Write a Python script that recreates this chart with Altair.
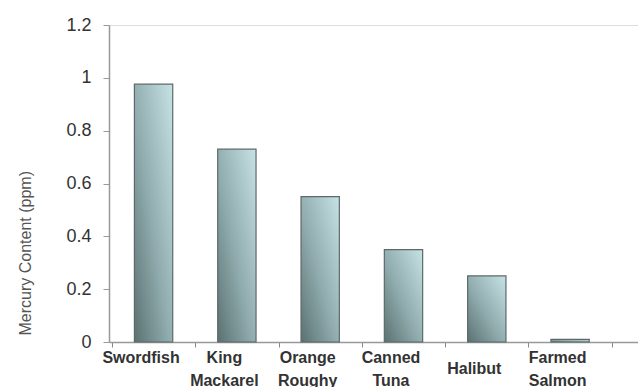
import altair as alt
import pandas as pd

categories = ["Swordfish", "King\nMackarel", "Orange\nRoughy", "Canned\nTuna", "Halibut", "Farmed\nSalmon"]
mercury_ppm = [0.976, 0.73, 0.55, 0.35, 0.25, 0.01]
y_ticks = [0, 0.2, 0.4, 0.6, 0.8, 1.0, 1.2]

df = pd.DataFrame({"fish": categories, "ppm": mercury_ppm})

grad = alt.Gradient(
    gradient="linear",
    x1=0, y1=1, x2=1, y2=0,
    stops=[
        alt.GradientStop(color="#5b7171", offset=0),
        alt.GradientStop(color="#8fabad", offset=0.45),
        alt.GradientStop(color="#c6e2e5", offset=1),
    ],
)

chart = alt.Chart(df).mark_bar(
    fill=grad, stroke="#5e6868", strokeWidth=1.2,
    width=alt.RelativeBandSize(0.46),
).encode(
    x=alt.X("fish:N", sort=categories,
            scale=alt.Scale(paddingInner=0, paddingOuter=0.175, align=0.1),
            axis=alt.Axis(
                title=None, labelAngle=0,
                labelExpr="split(datum.label, '\\n')",
                labelBaseline="top", labelAlign="center",
                labelFont="Liberation Sans", labelFontWeight="bold",
                labelFontSize=16, labelColor="#333333", labelLineHeight=23,
                labelPadding={"condition": {"test": "datum.label == 'Halibut'", "value": 13}, "value": 2},
                labelOffset=-13,
                tickBand="extent", tickSize=5, tickColor="#888888",
                domainColor="#999999", domainWidth=1.5,
            )),
    y=alt.Y("ppm:Q",
            scale=alt.Scale(domain=[0, 1.2], nice=False),
            axis=alt.Axis(
                values=y_ticks, format=".1~f", grid=False,
                title="Mercury Content (ppm)",
                titleFont="Liberation Sans", titleFontSize=16,
                titleFontWeight="normal", titleColor="#555555",
                titleAngle=270, titleAlign="left", titleBaseline="middle",
                titleX=-84, titleY=310,
                labelFont="Liberation Sans", labelFontSize=18,
                labelColor="#333333", labelPadding=12,
                tickSize=6, tickColor="#999999",
                domainColor="#999999", domainWidth=1.5,
            )),
).properties(
    width=529, height=317,
    padding={"left": 109, "top": 25, "right": 0, "bottom": 45},
    autosize=alt.AutoSizeParams(type="none"),
).configure_view(stroke=None).configure(background="white")

chart.save("out.html", embed_options={"renderer": "svg", "actions": False})
